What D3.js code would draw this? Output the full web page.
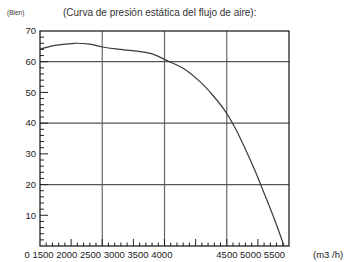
<!DOCTYPE html>
<html>
<head>
<meta charset="utf-8">
<script src="https://cdn.jsdelivr.net/npm/d3@7"></script>
<style>
  body { margin: 0; background: #fff; }
  svg { display: block; font-family: "Liberation Sans", Arial, sans-serif; }
</style>
</head>
<body>
<div id="chart"></div>
<script>
// Curve data: airflow (axis units) vs static pressure
const flow = [0, 240, 560, 800, 1000, 1290, 1770, 2056, 2329, 2570, 2779, 2972, 3133, 3293, 3454, 3614, 3775, 3920];
const pressure = [64.1, 65.3, 66.0, 65.7, 64.8, 64.0, 62.7, 60.2, 57.5, 53.5, 49.0, 44.0, 38.5, 31.8, 24.5, 16.5, 8.2, 0];

// Tick labels
const yTickLabels = [10, 20, 30, 40, 50, 60, 70];
const xLabelsLeft = ["0", "1500", "2000", "2500", "3000", "3500", "4000"];
const xLabelsRight = ["4500", "5000", "5500"];
const yGridValues = [20, 40, 60];
const xGridValues = [1000, 2000, 3000];

const titleText = "(Curva de presión estática del flujo de aire):";
const unitYText = "(Bien)";
const unitXText = "(m3 /h)";

const width = 345, height = 262;
const margin = {top: 31, right: 56, bottom: 16, left: 40};

const svg = d3.select("#chart")
    .append("svg")
    .attr("width", width)
    .attr("height", height);

const x = d3.scaleLinear()
    .domain([0, 4000])
    .range([margin.left, width - margin.right]);

const y = d3.scaleLinear()
    .domain([0, 70])
    .range([height - margin.bottom, margin.top]);

// Grid lines
svg.append("g")
    .selectAll("line")
    .data(xGridValues)
    .join("line")
    .attr("x1", d => x(d)).attr("x2", d => x(d))
    .attr("y1", y(70)).attr("y2", y(0))
    .attr("stroke", "#6a6a6a")
    .attr("stroke-width", 1.2);

svg.append("g")
    .selectAll("line")
    .data(yGridValues)
    .join("line")
    .attr("x1", x(0)).attr("x2", x(4000))
    .attr("y1", d => y(d)).attr("y2", d => y(d))
    .attr("stroke", "#555")
    .attr("stroke-width", 1.2);

// Y minor ticks (every 2) and major (every 10), drawn inward
svg.append("g")
    .selectAll("line")
    .data(d3.range(2, 70, 2))
    .join("line")
    .attr("x1", x(0))
    .attr("x2", d => x(0) + (d % 10 === 0 ? 8 : 4))
    .attr("y1", d => y(d)).attr("y2", d => y(d))
    .attr("stroke", "#222")
    .attr("stroke-width", 1);

// X minor ticks (every 100) and mid ticks (every 500), drawn inward
svg.append("g")
    .selectAll("line")
    .data(d3.range(100, 4000, 100))
    .join("line")
    .attr("x1", d => x(d)).attr("x2", d => x(d))
    .attr("y1", y(0))
    .attr("y2", d => y(0) - (d % 500 === 0 ? 7 : 3.5))
    .attr("stroke", "#222")
    .attr("stroke-width", 1);

// Frame
svg.append("rect")
    .attr("x", x(0))
    .attr("y", y(70))
    .attr("width", x(4000) - x(0))
    .attr("height", y(0) - y(70))
    .attr("fill", "none")
    .attr("stroke", "#111")
    .attr("stroke-width", 1.2);

// Curve
const line = d3.line()
    .x(i => x(flow[i]))
    .y(i => y(pressure[i]))
    .curve(d3.curveCatmullRom.alpha(0.5));

svg.append("path")
    .attr("d", line(d3.range(flow.length)))
    .attr("fill", "none")
    .attr("stroke", "#3a3a3a")
    .attr("stroke-width", 1.2);

// Y tick labels
svg.append("g")
    .selectAll("text")
    .data(yTickLabels)
    .join("text")
    .attr("x", x(0) - 4)
    .attr("y", d => y(d))
    .attr("dy", "0.35em")
    .attr("text-anchor", "end")
    .attr("font-size", "9.5px")
    .attr("fill", "#222")
    .text(d => d);

// X tick labels (two runs of text as in the original)
svg.append("text")
    .attr("x", x(0) - 15.5)
    .attr("y", 258)
    .attr("font-size", "9.5px")
    .attr("fill", "#222")
    .text(xLabelsLeft.join(" "));

svg.append("text")
    .attr("x", x(4000) - 4)
    .attr("y", 258)
    .attr("text-anchor", "end")
    .attr("font-size", "9.5px")
    .attr("fill", "#222")
    .text(xLabelsRight.join(" "));

// Axis unit labels and title
svg.append("text")
    .attr("x", 313)
    .attr("y", 258)
    .attr("font-size", "9.5px")
    .attr("fill", "#222")
    .text(unitXText);

svg.append("text")
    .attr("x", 7)
    .attr("y", 15)
    .attr("font-size", "6.5px")
    .attr("fill", "#333")
    .text(unitYText);

svg.append("text")
    .attr("x", 63)
    .attr("y", 16)
    .attr("font-size", "10px")
    .attr("fill", "#333")
    .text(titleText);
</script>
</body>
</html>
